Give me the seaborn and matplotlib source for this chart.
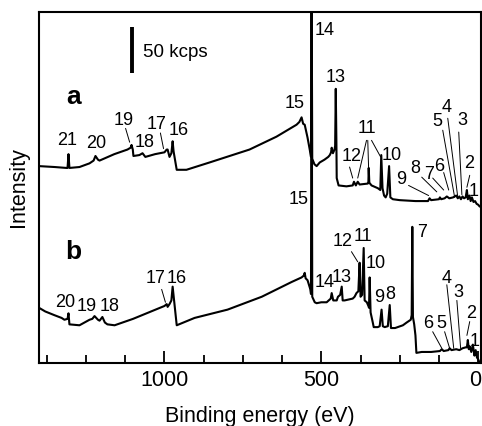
import matplotlib
matplotlib.use("Agg")
import matplotlib.pyplot as plt
from matplotlib.ticker import MultipleLocator
import matplotlib.transforms as mtransforms
import pandas as pd
import seaborn as sns

# ---------------- data (binding energy in eV, intensity in kcps) ----------------
a_energy = [1400, 1350, 1312, 1309, 1306, 1303, 1271, 1239, 1226, 1220, 1212, 1207, 1160, 1118,
            1108, 1105, 1101, 1099, 1080, 1070, 1061, 1030, 1000, 993, 990, 984, 978, 974, 971,
            961, 930, 856, 729, 643, 579, 570, 563, 558, 553, 544, 537, 533, 531, 529, 522, 515,
            505, 490, 478, 473, 469, 467, 463, 458, 456, 454, 452, 451, 445, 420, 400, 396, 390,
            384, 378, 352, 350, 349, 347, 340, 320, 312, 309, 305, 300, 295, 290, 284, 280, 272,
            250, 200, 160, 155, 150, 125, 122, 118, 107, 100, 92, 80, 70, 65, 60, 55, 50, 45, 40,
            36, 33, 28, 24, 20, 15, 10, 5, 0, -5]
a_intensity = [214, 213, 212, 212, 227, 212, 213, 217, 220, 225, 221, 220, 227, 232,
               234, 237, 232, 225, 226, 228, 224, 227, 229, 232, 232, 224, 228, 241, 230,
               210, 210, 218, 232, 246, 259, 262, 267, 260, 259, 245, 232, 224, 420, 222, 216, 214,
               218, 221, 224, 226, 229, 234, 228, 232, 236, 298, 240, 201, 193, 192, 193, 197, 193,
               197, 194, 195, 197, 212, 196, 193, 190, 188, 226, 190, 182, 180, 184, 214, 180, 178,
               177, 176, 176, 179, 177, 178, 180, 178, 179, 181, 179, 180, 182, 179, 181, 178, 181, 179, 180,
               188, 178, 182, 176, 180, 175, 176, 173, 172, 170]

b_energy = [1400, 1380, 1351, 1328, 1319, 1309, 1306, 1303, 1271, 1239, 1230, 1223, 1212, 1207,
            1198, 1190, 1182, 1159, 1100, 1050, 1000, 993, 990, 984, 978, 974, 970, 961, 904, 799,
            690, 595, 563, 556, 553, 550, 544, 535, 533, 531, 529, 521, 515, 500, 483, 470, 467,
            462, 451, 447, 440, 435, 432, 426, 400, 394, 388, 382, 378, 375, 370, 365, 362, 355,
            350, 348, 346, 343, 336, 333, 320, 314, 308, 304, 298, 288, 282, 278, 265, 240, 228,
            215, 212, 210, 208, 204, 200, 197, 180, 150, 122, 116, 110, 95, 91, 85, 70, 60, 50,
            40, 36, 33, 30, 27, 22, 17, 12, 8, 4, 0, -5]
b_intensity = [60, 56, 52, 49, 47, 48, 54, 42, 41, 47, 48, 51, 47, 46,
               50, 44, 42, 41, 48, 55, 62, 64, 61, 64, 68, 83, 70, 41, 49, 58,
               72, 88, 93, 95, 98, 92, 90, 80, 75, 420, 72, 66, 65, 66, 66, 70, 76,
               68, 68, 72, 74, 83, 68, 68, 70, 72, 76, 78, 109, 72, 74, 125, 68, 66,
               62, 60, 93, 55, 44, 39, 39, 40, 58, 40, 39, 40, 63, 38, 38, 41, 44,
               47, 52, 148, 50, 42, 30, 11, 12, 12, 13, 15, 13, 14, 16, 14, 15, 14, 16,
               17, 17, 25, 15, 18, 12, 20, 8, 14, 6, 4, 0]

# peak labels: (text, energy, intensity)
a_labels = [("21", 1309, 242), ("20", 1217, 239), ("19", 1131, 264), ("18", 1064, 240),
            ("17", 1026, 259), ("16", 955, 253), ("15", 585, 282), ("14", 490, 361),
            ("13", 454, 310), ("12", 404, 224), ("11", 356, 255), ("10", 276, 226),
            ("9", 244, 199), ("8", 202, 211), ("7", 158, 205), ("6", 123, 214),
            ("5", 129, 262), ("4", 100, 278), ("3", 52, 264), ("2", 30, 217), ("1", 14, 186)]
b_labels = [("20", 1316, 66), ("19", 1249, 61), ("18", 1175, 61), ("17", 1029, 92),
            ("16", 961, 92), ("15", 572, 178), ("14", 490, 87), ("13", 435, 93),
            ("12", 432, 132), ("11", 368, 138), ("10", 327, 108), ("9", 314, 71),
            ("8", 279, 74), ("7", 180, 142), ("6", 158, 43), ("5", 119, 43),
            ("4", 100, 92), ("3", 62, 77), ("2", 24, 54), ("1", 11, 23)]

# leader lines: (energy0, intensity0, energy1, intensity1)
a_leaders = [(1124, 255, 1111, 240), (1013, 250, 1003, 233), (410, 213, 400, 201),
             (356, 242, 384, 201), (352, 242, 349, 208), (340, 242, 311, 224),
             (222, 193, 158, 182), (180, 202, 132, 186), (145, 201, 110, 188),
             (110, 207, 94, 188), (113, 253, 75, 180), (97, 266, 65, 180),
             (62, 251, 52, 183), (27, 204, 36, 191)]
b_leaders = [(1009, 80, 997, 66), (404, 121, 384, 110), (145, 34, 116, 16),
             (107, 34, 91, 16), (100, 85, 78, 16), (68, 68, 56, 16), (27, 45, 36, 30)]

scale_bar = (1102, 315, 365)   # energy, bottom, top (50 kcps)
scale_text = "50 kcps"
x_ticks = [1000, 500, 0]

# ---------------- plotting ----------------
sns.set_style("ticks")
plt.rcParams['font.family'] = ['Liberation Sans', 'DejaVu Sans']
plt.rcParams['text.color'] = 'black'
plt.rcParams['axes.labelcolor'] = 'black'
plt.rcParams['xtick.color'] = 'black'
plt.rcParams['axes.edgecolor'] = 'black'

fig = plt.figure(figsize=(4.82, 4.26), dpi=100)
ax = fig.add_axes([39 / 482, 63 / 426, (480.7 - 39) / 482, (363 - 12) / 426])

df_a = pd.DataFrame({"energy": a_energy, "intensity": a_intensity})
df_b = pd.DataFrame({"energy": b_energy, "intensity": b_intensity})
sns.lineplot(data=df_a, x="energy", y="intensity", ax=ax, color="black", lw=1.5,
             sort=False, estimator=None)
sns.lineplot(data=df_b, x="energy", y="intensity", ax=ax, color="black", lw=1.5,
             sort=False, estimator=None)

for labels in (a_labels, b_labels):
    for t, x, y in labels:
        ax.text(x, y, t, fontsize=13, ha="center", va="center", color="black")
for leaders in (a_leaders, b_leaders):
    for x0, y0, x1, y1 in leaders:
        ax.plot([x0, x1], [y0, y1], color="black", lw=0.7)

ax.text(1290, 289, "a", fontsize=19, fontweight="bold", ha="center", va="center")
ax.text(1290, 121, "b", fontsize=19, fontweight="bold", ha="center", va="center")

ax.plot([scale_bar[0], scale_bar[0]], [scale_bar[1], scale_bar[2]], color="black", lw=2.8,
        solid_capstyle="butt")
ax.text(1067, 338, scale_text, fontsize=13.5, ha="left", va="center")

ax.set_xlim(1400, -8)
ax.set_ylim(0, 381.5)
ax.set_xticks(x_ticks)
ax.set_xticklabels([str(v) for v in x_ticks])
ax.xaxis.set_minor_locator(MultipleLocator(125))
ax.set_yticks([])
ax.tick_params(axis="x", which="major", direction="in", length=9, width=1.3,
               labelsize=15.5, pad=5)
ax.tick_params(axis="x", which="minor", direction="in", length=6, width=1.3)
for s in ax.spines.values():
    s.set_linewidth(1.5)
    s.set_visible(True)

# nudge the "0" label slightly left so it stays inside the figure
last = ax.get_xticklabels()[-1]
last.set_transform(last.get_transform() + mtransforms.ScaledTranslation(-3.5 / 100, 0, fig.dpi_scale_trans))

ax.set_xlabel("Binding energy (eV)", fontsize=15.5, labelpad=11)
ax.set_ylabel("Intensity", fontsize=15.5, labelpad=7)

fig.savefig("out.png", dpi=100)
